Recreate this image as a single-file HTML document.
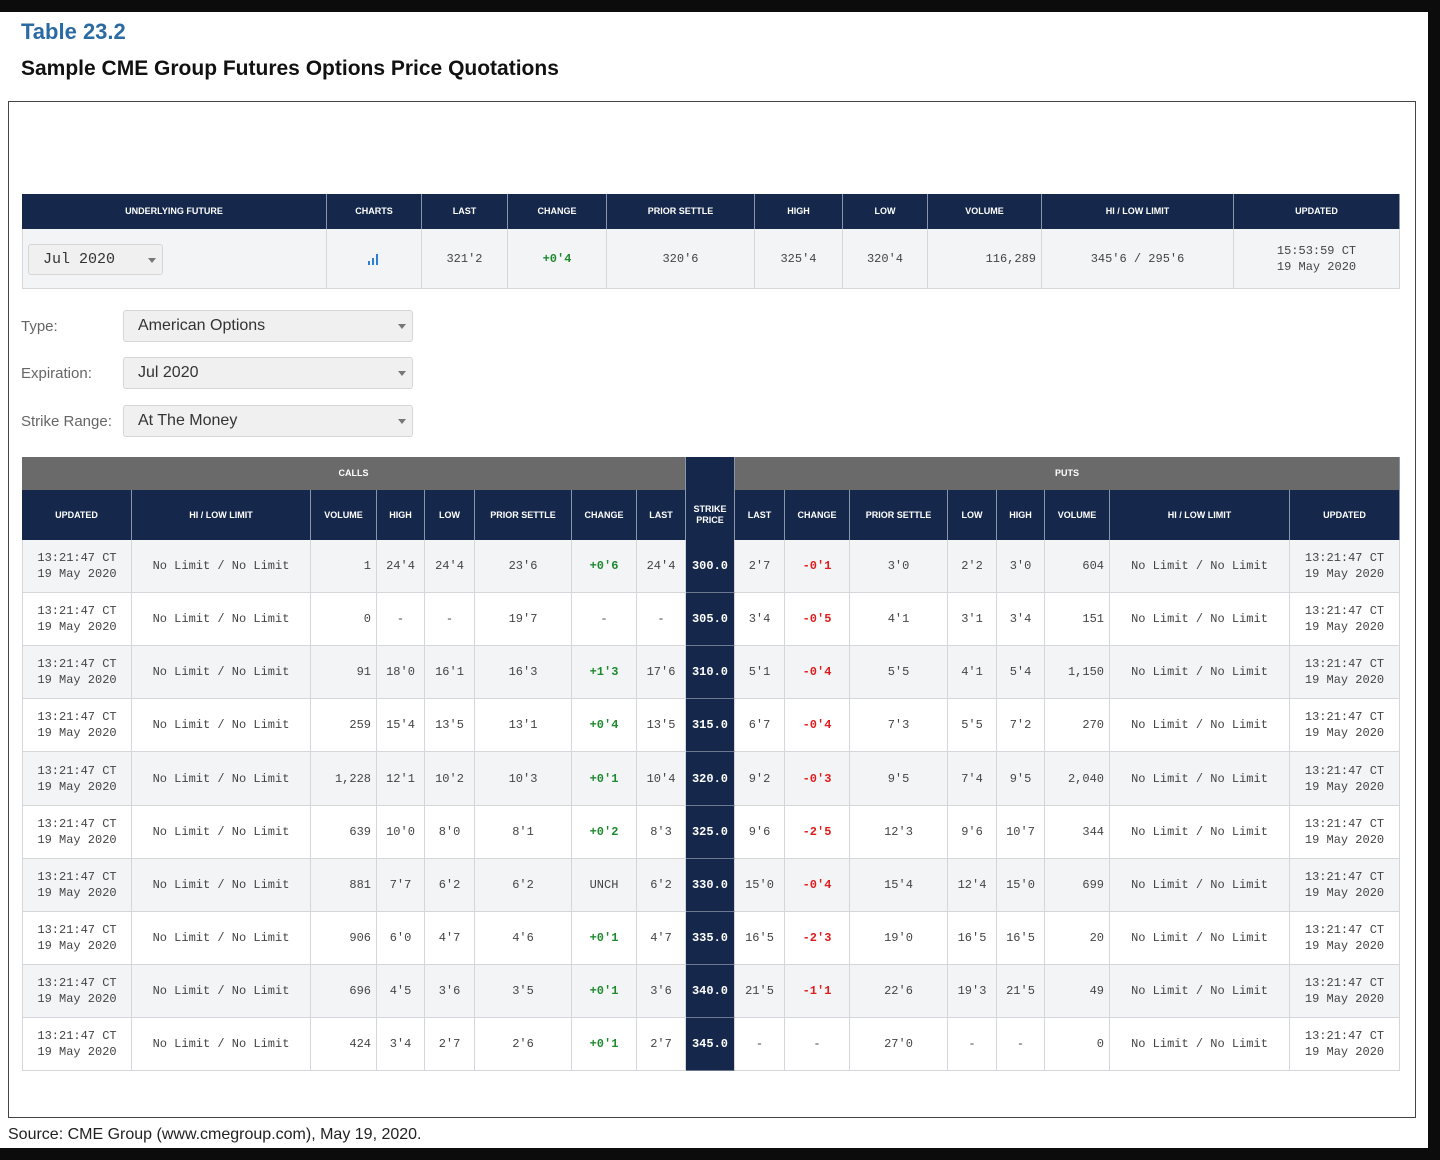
<!DOCTYPE html>
<html><head><meta charset="utf-8">
<style>
body{margin:0;width:1440px;height:1160px;background:#0c0c0c;position:relative;overflow:hidden;font-family:"Liberation Sans",sans-serif}
#page{position:absolute;left:0;top:12px;width:1428px;height:1136px;background:#fff}
.abs{position:absolute;box-sizing:border-box}
.h{background:#15284b;color:#fff;font-size:9px;font-weight:bold;display:flex;align-items:center;justify-content:center;text-align:center;border-right:1px solid #8a94a8;line-height:11px}
.c{font-family:"Liberation Mono",monospace;font-size:12px;color:#444;display:flex;align-items:center;justify-content:center;text-align:center;border-right:1px solid #d4d6d9;border-bottom:1px solid #d4d6d9;line-height:16px;white-space:pre}
.r{justify-content:flex-end;padding-right:5px}
.g{color:#1e8a2e;font-weight:bold}
.red{color:#e01b1b;font-weight:bold}
.sk{background:#15284b;color:#fff;font-weight:bold;border-bottom:1px solid #6c7890}
.lbl{font-size:15px;color:#666}
.sel{background:#f0f0f0;border:1px solid #d6d6d6;border-radius:3px;font-size:16px;color:#333;padding-left:14px;display:flex;align-items:center}
.arr{position:absolute;right:6px;top:50%;margin-top:-2px;border-left:4px solid transparent;border-right:4px solid transparent;border-top:5px solid #777}
</style></head><body>
<div id="page">
<div class="abs" style="left:21px;top:7px;font-size:22px;font-weight:bold;color:#2b6aa3">Table 23.2</div>
<div class="abs" style="left:21px;top:45px;font-size:21px;font-weight:bold;color:#111">Sample CME Group Futures Options Price Quotations</div>
<div class="abs" style="left:8px;top:89px;width:1408px;height:1017px;border:1px solid #444"></div>
<div class="abs" style="left:8px;top:1114px;font-size:16px;color:#222">Source: CME Group (www.cmegroup.com), May 19, 2020.</div>
<div id="content"></div>
</div>
<script>
const topHeaders=["UNDERLYING FUTURE","CHARTS","LAST","CHANGE","PRIOR SETTLE","HIGH","LOW","VOLUME","HI / LOW LIMIT","UPDATED"];
const topValues=["","","321'2","+0'4","320'6","325'4","320'4","116,289","345'6 / 295'6","15:53:59 CT\n19 May 2020"];
const strikes=["300.0","305.0","310.0","315.0","320.0","325.0","330.0","335.0","340.0","345.0"];
const callVol=["1","0","91","259","1,228","639","881","906","696","424"];
const callHigh=["24'4","-","18'0","15'4","12'1","10'0","7'7","6'0","4'5","3'4"];
const callLow=["24'4","-","16'1","13'5","10'2","8'0","6'2","4'7","3'6","2'7"];
const callPrior=["23'6","19'7","16'3","13'1","10'3","8'1","6'2","4'6","3'5","2'6"];
const callChg=["+0'6","-","+1'3","+0'4","+0'1","+0'2","UNCH","+0'1","+0'1","+0'1"];
const callLast=["24'4","-","17'6","13'5","10'4","8'3","6'2","4'7","3'6","2'7"];
const putLast=["2'7","3'4","5'1","6'7","9'2","9'6","15'0","16'5","21'5","-"];
const putChg=["-0'1","-0'5","-0'4","-0'4","-0'3","-2'5","-0'4","-2'3","-1'1","-"];
const putPrior=["3'0","4'1","5'5","7'3","9'5","12'3","15'4","19'0","22'6","27'0"];
const putLow=["2'2","3'1","4'1","5'5","7'4","9'6","12'4","16'5","19'3","-"];
const putHigh=["3'0","3'4","5'4","7'2","9'5","10'7","15'0","16'5","21'5","-"];
const putVol=["604","151","1,150","270","2,040","344","699","20","49","0"];
const optHeaders=["UPDATED","HI / LOW LIMIT","VOLUME","HIGH","LOW","PRIOR SETTLE","CHANGE","LAST","STRIKE<br>PRICE","LAST","CHANGE","PRIOR SETTLE","LOW","HIGH","VOLUME","HI / LOW LIMIT","UPDATED"];

const root=document.getElementById('content');
const T=-12;
function box(cls,x,y,w,h,html,name,inter){
  const d=document.createElement('div');
  d.className='abs '+cls;
  d.style.cssText=`left:${x}px;top:${y+T}px;width:${w}px;height:${h}px`;
  d.innerHTML=html;
  
  
  root.appendChild(d);return d;
}
const tx=[22,327,422,508,607,755,843,928,1042,1234,1400];
for(let i=0;i<10;i++){
  box('h',tx[i],194,tx[i+1]-tx[i],35,topHeaders[i],'future-header-'+i,false);
  let cls='c';let v=topValues[i];
  if(i==3)cls+=' g';
  if(i==7)cls+=' r';
  const d=box(cls,tx[i],229,tx[i+1]-tx[i],60,v,'future-cell-'+i,i<2);
  d.style.background='#f3f4f6';
  if(i==0){d.style.borderLeft='1px solid #d4d6d9';
    box('sel',28,244,135,31,'<span style="font-family:Liberation Mono,monospace;font-size:15px">Jul 2020</span><span class="arr"></span>','contract-dropdown',true);}
  if(i==1){d.innerHTML='<svg width="12" height="12"><rect x="0" y="8" width="2" height="4" fill="#2f7fd0"/><rect x="4" y="5" width="2" height="7" fill="#2f7fd0"/><rect x="8" y="1" width="2" height="11" fill="#2f7fd0"/></svg>';}
}
const fl=[["Type:","American Options",310,'type'],["Expiration:","Jul 2020",357,'expiration'],["Strike Range:","At The Money",405,'strike-range']];
fl.forEach(f=>{
  box('lbl',21,f[2]+8,100,20,f[0],f[3]+'-label',false);
  box('sel',123,f[2],290,32,f[1]+'<span class="arr"></span>',f[3]+'-dropdown',true);
});
const ox=[22,132,311,377,425,475,572,637,686,735,785,850,948,997,1045,1110,1290,1400];
let d=box('h',22,457,664,33,'CALLS','calls-header',false);d.style.background='#6a6a6a';
d=box('h',735,457,665,33,'PUTS','puts-header',false);d.style.background='#6a6a6a';
box('h',686,457,49,33,'','strike-header-top',false);
for(let i=0;i<17;i++)box('h',ox[i],490,ox[i+1]-ox[i],50,optHeaders[i],'column-header-'+i,false);
const rowH=53.1;
for(let r=0;r<10;r++){
  const y=Math.round(540+r*rowH),h=Math.round(540+(r+1)*rowH)-y;
  const upd="13:21:47 CT\n19 May 2020",lim="No Limit / No Limit";
  const vals=[upd,lim,callVol[r],callHigh[r],callLow[r],callPrior[r],callChg[r],callLast[r],strikes[r],putLast[r],putChg[r],putPrior[r],putLow[r],putHigh[r],putVol[r],lim,upd];
  for(let i=0;i<17;i++){
    let cls='c';
    if(i==2||i==14)cls+=' r';
    if(i==6&&vals[i].startsWith('+'))cls+=' g';
    if(i==10&&vals[i].startsWith('-')&&vals[i]!='-')cls+=' red';
    if(i==8)cls+=' sk';
    const c=box(cls,ox[i],y,ox[i+1]-ox[i],h,vals[i],'row-'+strikes[r]+'-col-'+i,false);
    if(i!=8)c.style.background=r%2==0?'#f3f4f6':'#fff';
    if(i==0)c.style.borderLeft='1px solid #d4d6d9';
  }
}
</script>
</body></html>
